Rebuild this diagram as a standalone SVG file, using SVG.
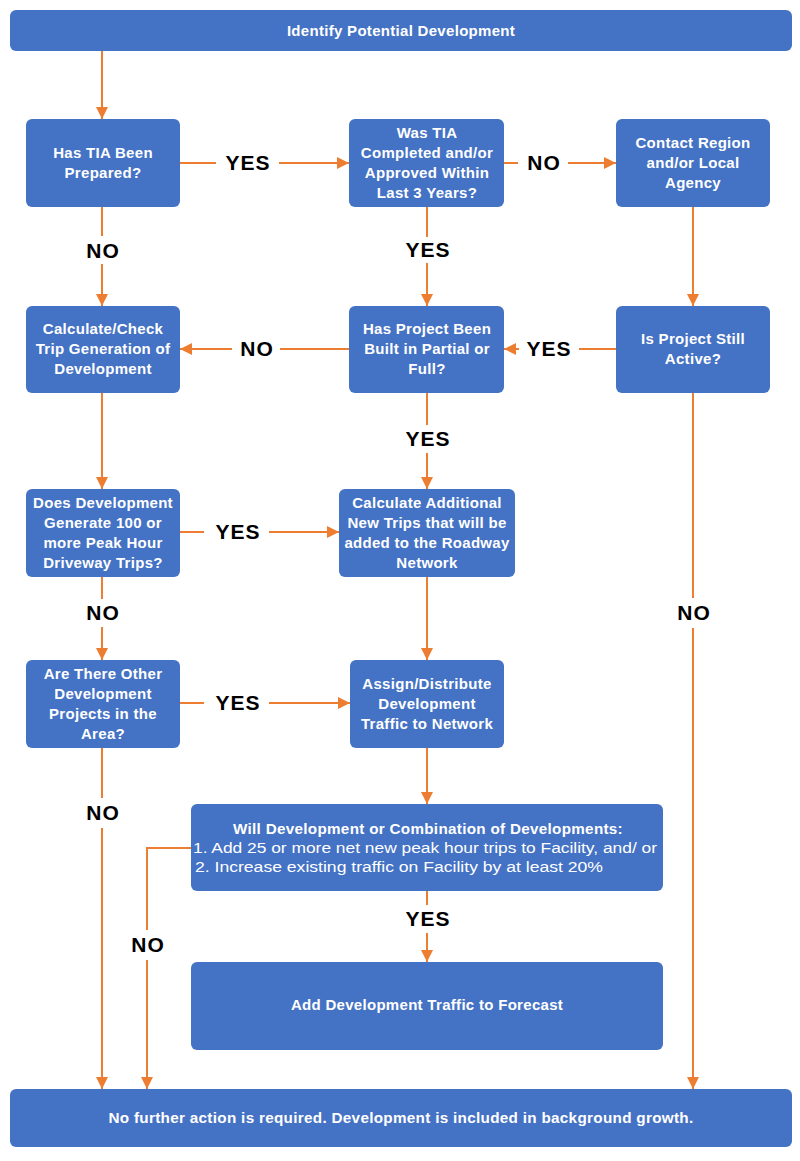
<svg xmlns="http://www.w3.org/2000/svg" width="800" height="1161" viewBox="0 0 800 1161">
<style>
.box{fill:#4472C4}
.t{fill:#fff;font-family:"Liberation Sans",Arial,sans-serif;font-weight:bold;font-size:15px;letter-spacing:0.3px;text-anchor:middle}
.r{fill:#fff;font-family:"Liberation Sans",Arial,sans-serif;font-size:15.5px}
.lbl{fill:#000;font-family:"Liberation Sans",Arial,sans-serif;font-weight:bold;font-size:21px;letter-spacing:1px;text-anchor:middle}
.c{fill:none;stroke:#ED7D31;stroke-width:2}
.a{marker-end:url(#ah)}
</style>
<defs>
<marker id="ah" markerUnits="userSpaceOnUse" markerWidth="13" markerHeight="12" refX="12" refY="6" orient="auto">
<path d="M0,0 L12,6 L0,12 z" fill="#ED7D31"/>
</marker>
</defs>
<rect width="800" height="1161" fill="#fff"/>

<g id="connectors">
<path class="c a" d="M102,51 V119"/>
<path class="c" d="M180,163 H216"/>
<path class="c a" d="M279,163 H349"/>
<path class="c" d="M504,163 H518"/>
<path class="c a" d="M568,163 H616"/>
<path class="c" d="M102,207 V236"/>
<path class="c a" d="M102,264 V306"/>
<path class="c" d="M427,207 V237"/>
<path class="c a" d="M427,263 V306"/>
<path class="c a" d="M693,207 V306"/>
<path class="c" d="M616,349 H579"/>
<path class="c a" d="M519,349 H504"/>
<path class="c" d="M349,349 H280"/>
<path class="c a" d="M232,349 H180"/>
<path class="c a" d="M102,393 V489"/>
<path class="c" d="M427,393 V425"/>
<path class="c a" d="M427,453 V489"/>
<path class="c" d="M693,393 V598"/>
<path class="c a" d="M693,628 V1089"/>
<path class="c" d="M180,532 H204"/>
<path class="c a" d="M269,532 H339"/>
<path class="c" d="M102,577 V599"/>
<path class="c a" d="M102,627 V660"/>
<path class="c a" d="M427,577 V660"/>
<path class="c" d="M180,703 H204"/>
<path class="c a" d="M269,703 H350"/>
<path class="c" d="M102,748 V798"/>
<path class="c a" d="M102,828 V1089"/>
<path class="c a" d="M427,748 V804"/>
<path class="c" d="M427,891 V905"/>
<path class="c a" d="M427,933 V962"/>
<path class="c" d="M191,848 H147 V930"/>
<path class="c a" d="M147,960 V1089"/>
</g>

<g id="labels">
<text class="lbl" x="248" y="170">YES</text>
<text class="lbl" x="544" y="170">NO</text>
<text class="lbl" x="103" y="258">NO</text>
<text class="lbl" x="428" y="257">YES</text>
<text class="lbl" x="549" y="356">YES</text>
<text class="lbl" x="257" y="356">NO</text>
<text class="lbl" x="428" y="446">YES</text>
<text class="lbl" x="238" y="539">YES</text>
<text class="lbl" x="103" y="620">NO</text>
<text class="lbl" x="694" y="620">NO</text>
<text class="lbl" x="238" y="710">YES</text>
<text class="lbl" x="103" y="820">NO</text>
<text class="lbl" x="428" y="926">YES</text>
<text class="lbl" x="148" y="952">NO</text>
</g>

<g id="n_identify">
<rect class="box" x="10" y="10" width="782" height="41" rx="6"/>
<text class="t" x="401" y="36">Identify Potential Development</text>
</g>
<g id="n_tia_prepared">
<rect class="box" x="26" y="119" width="154" height="88" rx="6"/>
<text class="t" x="103" y="158">Has TIA Been</text>
<text class="t" x="103" y="178">Prepared?</text>
</g>
<g id="n_tia_recent">
<rect class="box" x="349" y="119" width="155" height="88" rx="6"/>
<text class="t" x="427" y="138">Was TIA</text>
<text class="t" x="427" y="158">Completed and/or</text>
<text class="t" x="427" y="178">Approved Within</text>
<text class="t" x="427" y="198">Last 3 Years?</text>
</g>
<g id="n_contact">
<rect class="box" x="616" y="119" width="154" height="88" rx="6"/>
<text class="t" x="693" y="148">Contact Region</text>
<text class="t" x="693" y="168">and/or Local</text>
<text class="t" x="693" y="188">Agency</text>
</g>
<g id="n_calc_check">
<rect class="box" x="26" y="306" width="154" height="87" rx="6"/>
<text class="t" x="103" y="334">Calculate/Check</text>
<text class="t" x="103" y="354">Trip Generation of</text>
<text class="t" x="103" y="374">Development</text>
</g>
<g id="n_built">
<rect class="box" x="349" y="306" width="155" height="87" rx="6"/>
<text class="t" x="427" y="334">Has Project Been</text>
<text class="t" x="427" y="354">Built in Partial or</text>
<text class="t" x="427" y="374">Full?</text>
</g>
<g id="n_active">
<rect class="box" x="616" y="306" width="154" height="87" rx="6"/>
<text class="t" x="693" y="344">Is Project Still</text>
<text class="t" x="693" y="364">Active?</text>
</g>
<g id="n_generate">
<rect class="box" x="26" y="489" width="154" height="88" rx="6"/>
<text class="t" x="103" y="508">Does Development</text>
<text class="t" x="103" y="528">Generate 100 or</text>
<text class="t" x="103" y="548">more Peak Hour</text>
<text class="t" x="103" y="568">Driveway Trips?</text>
</g>
<g id="n_additional">
<rect class="box" x="339" y="489" width="176" height="88" rx="6"/>
<text class="t" x="427" y="508">Calculate Additional</text>
<text class="t" x="427" y="528">New Trips that will be</text>
<text class="t" x="427" y="548">added to the Roadway</text>
<text class="t" x="427" y="568">Network</text>
</g>
<g id="n_other">
<rect class="box" x="26" y="660" width="154" height="88" rx="6"/>
<text class="t" x="103" y="679">Are There Other</text>
<text class="t" x="103" y="699">Development</text>
<text class="t" x="103" y="719">Projects in the</text>
<text class="t" x="103" y="739">Area?</text>
</g>
<g id="n_assign">
<rect class="box" x="350" y="660" width="154" height="88" rx="6"/>
<text class="t" x="427" y="689">Assign/Distribute</text>
<text class="t" x="427" y="709">Development</text>
<text class="t" x="427" y="729">Traffic to Network</text>
</g>
<g id="n_will">
<rect class="box" x="191" y="804" width="472" height="87" rx="6"/>
<text class="t" x="428" y="834" textLength="390" lengthAdjust="spacingAndGlyphs">Will Development or Combination of Developments:</text>
<text class="r" x="193" y="853" textLength="464" lengthAdjust="spacingAndGlyphs">1. Add 25 or more net new peak hour trips to Facility, and/ or</text>
<text class="r" x="195" y="872" textLength="408" lengthAdjust="spacingAndGlyphs">2. Increase existing traffic on Facility by at least 20%</text>
</g>
<g id="n_add">
<rect class="box" x="191" y="962" width="472" height="88" rx="6"/>
<text class="t" x="427" y="1010">Add Development Traffic to Forecast</text>
</g>
<g id="n_none">
<rect class="box" x="10" y="1089" width="782" height="58" rx="6"/>
<text class="t" x="401" y="1123" textLength="585" lengthAdjust="spacingAndGlyphs">No further action is required. Development is included in background growth.</text>
</g>
</svg>
